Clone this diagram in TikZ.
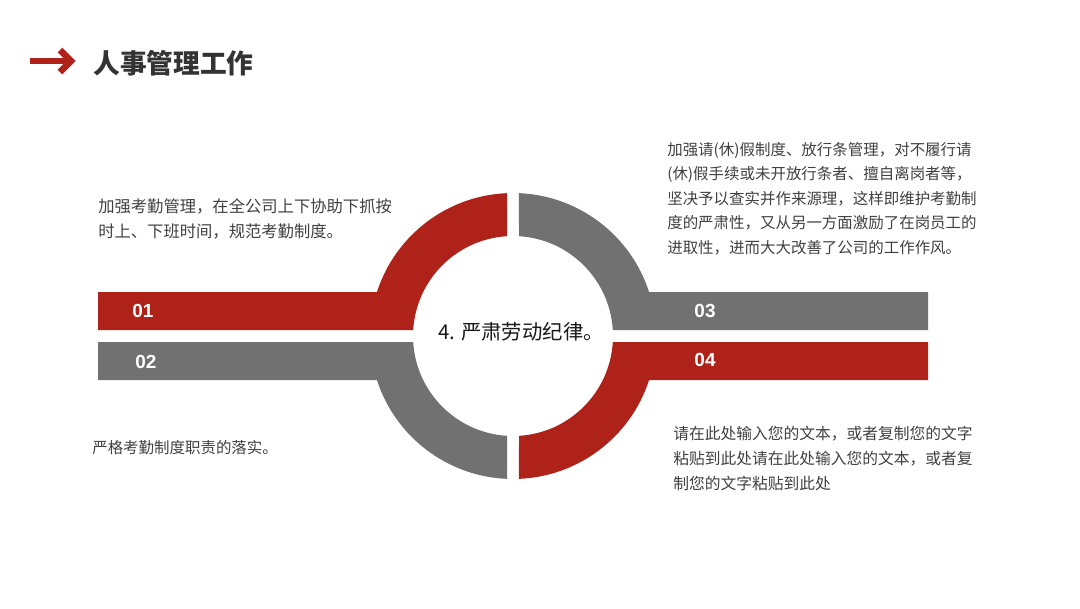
\documentclass[tikz,border=0pt]{standalone}
\usepackage{fontspec}
\setmainfont{Noto Sans CJK SC}
\newfontfamily\numfont{Liberation Sans}
\definecolor{redbar}{HTML}{AF2219}
\definecolor{graybar}{HTML}{717172}
\definecolor{bodytext}{HTML}{404040}
\definecolor{titletext}{HTML}{333333}

\begin{document}
\begin{tikzpicture}[
    x=0.025cm, y=-0.025cm,
    bodytxt/.style={anchor=north west, inner sep=0pt, align=left, text=bodytext, font=\fontsize{11}{17.4}\selectfont},
    numlabel/.style={text=white, inner sep=0pt, font=\numfont\bfseries\fontsize{13.5}{16}\selectfont},
    titletxt/.style={anchor=west, inner sep=0pt, text=titletext, font=\bfseries\fontsize{19}{22}\selectfont},
]
    \useasboundingbox (0,0) rectangle (1080,608);

    % title arrow
    \coordinate (arrS) at (30,61);
    \coordinate (arrE) at (70,61);
    \coordinate (arrT) at (71,61);
    \draw[redbar, line width=0.16cm] (arrS) -- (arrE);
    \draw[redbar, line width=0.16cm, line join=miter] (60,50) -- (arrT) -- (60,72);
    \node[titletxt] (title) at (93,63) {人事管理工作};

    % ring in four parts with bars
    \begin{scope}[shift={(513,336)}]
        \foreach \sx/\sy/\col in {1/1/redbar, -1/1/graybar, 1/-1/graybar, -1/-1/redbar}
            \fill[\col, xscale=\sx, yscale=\sy] (-415,-44) -- (197.92:143)
                arc[start angle=197.92, end angle=267.60, radius=143] -- (266.56:100)
                arc[start angle=266.56, end angle=183.44, radius=100] -- (-415,-6) -- cycle;
    \end{scope}

    % bar numbers
    \node[numlabel] (num1) at (143,311) {01};
    \node[numlabel] (num2) at (146,362) {02};
    \node[numlabel] (num3) at (705,311) {03};
    \node[numlabel] (num4) at (705,360) {04};

    % centre
    \node[inner sep=0pt, text=black!90, font=\fontsize{14.5}{17}\selectfont] (center) at (521,332) {4. 严肃劳动纪律。};

    % texts
    \node[bodytxt, font=\fontsize{11.6}{17.8}\selectfont] (txtA) at (98,198) {加强考勤管理，在全公司上下协助下抓按\\时上、下班时间，规范考勤制度。};
    \node[bodytxt] (txtB) at (92,440) {严格考勤制度职责的落实。};
    \node[bodytxt] (txtC) at (667,142) {加强请(休)假制度、放行条管理，对不履行请\\(休)假手续或未开放行条者、擅自离岗者等，\\坚决予以查实并作来源理，这样即维护考勤制\\度的严肃性，又从另一方面激励了在岗员工的\\进取性，进而大大改善了公司的工作作风。};
    \node[bodytxt, font=\fontsize{11.2}{17.6}\selectfont] (txtD) at (673,426) {请在此处输入您的文本，或者复制您的文字\\粘贴到此处请在此处输入您的文本，或者复\\制您的文字粘贴到此处};
\end{tikzpicture}
\end{document}
